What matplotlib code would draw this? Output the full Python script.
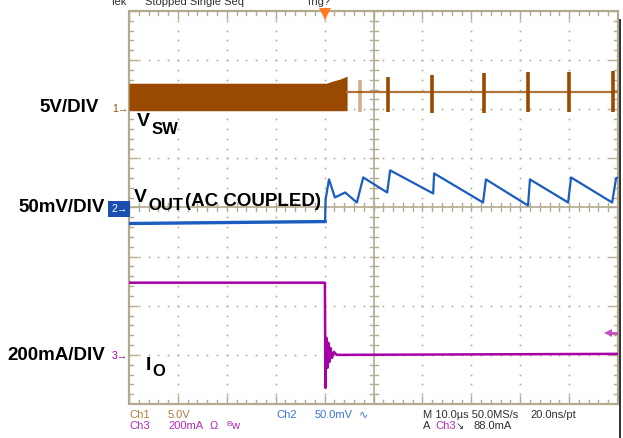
import numpy as np
import matplotlib
matplotlib.use('Agg')
import matplotlib.pyplot as plt
from matplotlib.lines import Line2D
from matplotlib.patches import Rectangle

plt.rcParams['font.family'] = ['Liberation Sans', 'DejaVu Sans']

W, H = 623, 438

# ---------------- data (time in us, 10 us/div) ----------------
# Ch1: V_SW, 5 V/div, ground marker at +2 div
sw_band_t = [0.0, 40.4, 41.6, 43.1, 44.6]
sw_band_top = [2.65, 2.65, 2.86, 3.06, 3.37]
sw_band_bot = [-0.15, -0.15, -0.15, -0.15, -0.15]
sw_base_t = [44.6, 100.0]
sw_base_v = [1.73, 1.73]
burst_t = [47.2, 53.0, 62.0, 72.6, 81.6, 90.0, 99.0]
burst_top = [2.96, 3.27, 3.47, 3.67, 3.78, 3.78, 3.88]
burst_bot = [-0.31, -0.31, -0.41, -0.41, -0.31, -0.31, -0.31]
burst_alpha = [0.45, 1, 1, 1, 1, 1, 1]

# Ch2: V_OUT (AC coupled), 50 mV/div, ground at 0 div
vout_t = [0.0, 40.1, 40.2, 40.9, 42.1, 44.2, 46.6, 47.9, 52.8, 53.4, 62.2, 62.4,
          72.4, 73.0, 81.6, 82.0, 89.8, 90.4, 98.8, 99.6, 100.0]
vout_mv = [-16.3, -14.3, 8.2, 28.6, 10.2, 15.3, 5.1, 30.6, 15.3, 37.8, 14.3, 34.7,
           5.1, 28.6, 2.0, 28.6, 5.1, 30.6, 5.1, 29.6, 30.6]

# Ch3: I_O, 200 mA/div, ground at -3 div
io_t = [0.0, 40.06, 40.16, 40.37, 40.57, 40.78, 40.98, 41.19, 41.5, 41.9, 42.5, 100.0]
io_ma = [293.9, 293.9, -134.7, 69.4, -53.1, 49.0, -28.6, 28.6, -12.2, 12.2, 0.0, 4.1]

CH1_OFF, CH2_OFF, CH3_OFF = 2.0, 0.0, -3.0
CH1_SCALE, CH2_SCALE, CH3_SCALE = 5.0, 50.0, 200.0

BROWN = '#9a4a00'
BLUE = '#1a5cc0'
PURPLE = '#a600a6'
GRID = '#b3ab90'

fig = plt.figure(figsize=(W / 100, H / 100), dpi=100)
fig.patch.set_facecolor('white')

L, R, T, B = 129, 618, 11, 404
ax = fig.add_axes([L / W, 1 - B / H, (R - L) / W, (B - T) / H])
ax.set_xlim(0, 100)
ax.set_ylim(-4, 4)
ax.axis('off')

px_x = 100 / (R - L)   # us per pixel
px_y = 8 / (B - T)     # div per pixel

# ---------------- graticule ----------------
minor_y = np.arange(-4, 4.001, 0.2)
minor_x = np.arange(0, 100.001, 2.0)
for xm in range(10, 100, 10):
    if xm == 50:
        continue
    ax.plot(np.full_like(minor_y, xm), minor_y, ls='none', marker='s', ms=1.2,
            mew=0, color=GRID, zorder=1)
for ym in range(-3, 4):
    if ym == 0:
        continue
    ax.plot(minor_x, np.full_like(minor_x, ym), ls='none', marker='s', ms=1.2,
            mew=0, color=GRID, zorder=1)

# centre cross with ticks
ax.plot([50, 50], [-4, 4], color=GRID, lw=1.2, zorder=1)
ax.plot([0, 100], [0, 0], color=GRID, lw=1.2, zorder=1)
for y in minor_y:
    ax.plot([50 - 4 * px_x, 50 + 4 * px_x], [y, y], color=GRID, lw=1, zorder=1)
for x in minor_x:
    ax.plot([x, x], [-4 * px_y, 4 * px_y], color=GRID, lw=1, zorder=1)

# border with inward ticks
ax.add_patch(Rectangle((0, -4), 100, 8, fill=False, ec=GRID, lw=1.6, zorder=1, clip_on=False))
for x in minor_x:
    ln = 8 if abs(x / 10 - round(x / 10)) < 1e-6 else 4
    ax.plot([x, x], [4, 4 - ln * px_y], color=GRID, lw=1, zorder=1)
    ax.plot([x, x], [-4, -4 + ln * px_y], color=GRID, lw=1, zorder=1)
for y in minor_y:
    ln = 8 if abs(y - round(y)) < 1e-6 else 4
    ax.plot([0, ln * px_x], [y, y], color=GRID, lw=1, zorder=1)
    ax.plot([100, 100 - ln * px_x], [y, y], color=GRID, lw=1, zorder=1)

# ---------------- traces ----------------
ax.fill_between(sw_band_t, CH1_OFF + np.array(sw_band_top) / CH1_SCALE,
                CH1_OFF + np.array(sw_band_bot) / CH1_SCALE, color=BROWN, lw=0, zorder=3)
ax.plot(sw_base_t, CH1_OFF + np.array(sw_base_v) / CH1_SCALE, color='#b0763c', lw=1.6, zorder=3)
for t, tp, bt, a in zip(burst_t, burst_top, burst_bot, burst_alpha):
    ax.plot([t, t], [CH1_OFF + bt / CH1_SCALE, CH1_OFF + tp / CH1_SCALE],
            color=BROWN, lw=2.6, alpha=a, solid_capstyle='butt', zorder=3)

ax.plot(vout_t[:2], CH2_OFF + np.array(vout_mv[:2]) / CH2_SCALE, color=BLUE, lw=2.4, zorder=3)
ax.plot(vout_t[1:], CH2_OFF + np.array(vout_mv[1:]) / CH2_SCALE, color=BLUE, lw=1.6, zorder=3)

ax.plot(io_t, CH3_OFF + np.array(io_ma) / CH3_SCALE, color=PURPLE, lw=1.8, zorder=3)

# trigger position marker and level arrow
ax.plot(40, 4 - 3 * px_y, marker='v', ms=8, color='#ff7a20', mew=0, clip_on=False, zorder=4)
lvl = CH3_OFF + 88.0 / CH3_SCALE
ax.plot([98.2, 99.8], [lvl, lvl], color='#c050c0', lw=2, zorder=4)
ax.plot(98.0, lvl, marker='<', ms=6, color='#c050c0', mew=0, zorder=4)


def ftext(x, y, s, **kw):
    return fig.text(x / W, 1 - y / H, s, **kw)


# screen right edge
fig.add_artist(Line2D([619.5 / W, 619.5 / W], [0, 1 - 20 / H], color='#303030', lw=1.4))

# top status line (cut off)
for x, s in [(110, 'Tek'), (145, 'Stopped Single Seq'), (306, 'Trig?')]:
    ftext(x, 5, s, fontsize=8, color='#303030', va='baseline', ha='left')

# left labels
lab = dict(fontsize=13.5, fontweight='bold', color='black', ha='right', va='center')
ftext(99, 107, '5V/DIV', **lab)
ftext(105, 208, '50mV/DIV', **lab)
ftext(105, 355, '200mA/DIV', **lab)

ftext(112, 109, '1\u2192', fontsize=7.5, color=BROWN, va='center', ha='left')
ftext(111, 209, '2\u2192', fontsize=7.5, color='white', va='center', ha='left',
      bbox=dict(boxstyle='square,pad=0.25', fc='#1a4fb0', ec='none'))
ftext(112, 356, '3\u2192', fontsize=7.5, color=PURPLE, va='center', ha='left')

# trace labels
bl = dict(fontweight='bold', color='black', va='center', ha='left')
ftext(137, 121, 'V', fontsize=14, **bl)
ftext(152, 129, 'SW', fontsize=12, **bl)
ftext(134, 198, 'V', fontsize=14, **bl)
ftext(148, 206, 'OUT', fontsize=12, **bl)
ftext(185, 201, '(AC COUPLED)', fontsize=13.5, **bl)
ftext(146, 365, 'I', fontsize=14, **bl)
ftext(152, 372, 'O', fontsize=12, **bl)

# bottom readout
sm = dict(fontsize=8, va='center', ha='left')
C1 = '#b57a3a'
C2 = '#3a74d0'
C3 = '#b52cb5'
DK = '#303030'
ftext(129, 415, 'Ch1', color=C1, **sm)
ftext(168, 415, '5.0V', color=C1, **sm)
ftext(276, 415, 'Ch2', color=C2, **sm)
ftext(315, 415, '50.0mV', color=C2, **sm)
ftext(359, 414, '\u223f', color=C2, fontsize=8, va='center', ha='left', family=['DejaVu Sans'])
ftext(423, 415, 'M 10.0\u00b5s 50.0MS/s', color=DK, **sm)
ftext(530, 415, '20.0ns/pt', color=DK, **sm)
ftext(129, 426, 'Ch3', color=C3, **sm)
ftext(168, 426, '200mA', color=C3, **sm)
ftext(210, 426, '\u03a9', color=C3, **sm)
ftext(226, 424, 'B', color=C3, fontsize=6, va='center', ha='left')
ftext(231, 426, 'w', color=C3, **sm)
ftext(423, 426, 'A', color=DK, **sm)
ftext(435, 426, 'Ch3', color=C3, **sm)
ftext(456, 426, '\u2198', color=DK, fontsize=7, va='center', ha='left', family=['DejaVu Sans'])
ftext(473, 426, '88.0mA', color=DK, **sm)

fig.savefig('out.png', dpi=100, facecolor='white')
